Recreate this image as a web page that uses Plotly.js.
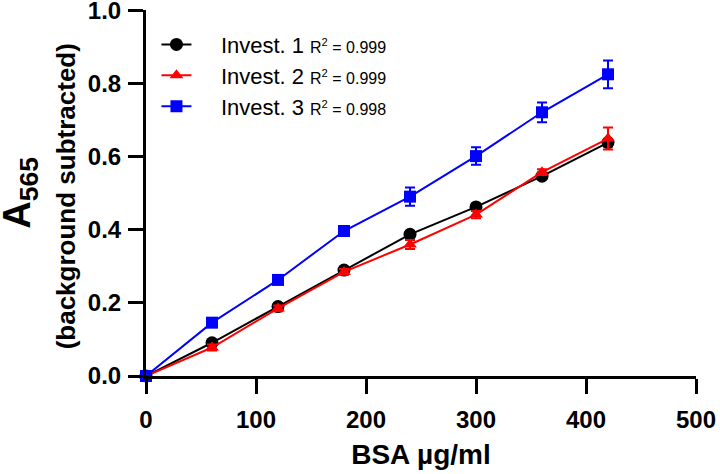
<!DOCTYPE html>
<html><head><meta charset="utf-8">
<script src="https://cdn.plot.ly/plotly-3.0.1.min.js"></script>
<style>body{margin:0;background:#fff}#chart{width:720px;height:474px}</style>
</head><body><div id="chart"></div>
<script>
const bsa = [0, 60, 120, 180, 240, 300, 360, 420];
const invest1 = [0, 0.091, 0.190, 0.290, 0.388, 0.463, 0.547, 0.639];
const invest1Err = [0, 0.006, 0.006, 0.006, 0.008, 0.008, 0.008, 0.010];
const invest2 = [0, 0.078, 0.185, 0.285, 0.360, 0.442, 0.558, 0.650];
const invest2Err = [0, 0.008, 0.008, 0.008, 0.012, 0.010, 0.008, 0.030];
const invest3 = [0, 0.146, 0.263, 0.397, 0.491, 0.602, 0.722, 0.826];
const invest3Err = [0, 0.008, 0.008, 0.010, 0.025, 0.024, 0.027, 0.038];
const names = ['Invest. 1', 'Invest. 2', 'Invest. 3'];
const r2 = ['0.999', '0.999', '0.998'];
const xTicks = [0, 100, 200, 300, 400, 500];
const yTicks = [0, 0.2, 0.4, 0.6, 0.8, 1.0];
const colors = ['#000000', '#ff0000', '#0000ff'];
const symbols = ['circle', 'triangle-up', 'square'];
const sizes = [13, 12, 12];
const ys = [invest1, invest2, invest3];
const errs = [invest1Err, invest2Err, invest3Err];

const font = 'Liberation Sans, Arial, sans-serif';
const traces = [];
for (let i = 0; i < 3; i++) {
  traces.push({
    x: bsa, y: ys[i], type: 'scatter', mode: 'lines+markers',
    name: '<span style="font-size:22px">\u00a0\u00a0\u00a0\u00a0' + names[i] + '</span> <span style="font-size:16px">R<sup>2</sup> = ' + r2[i] + '</span>',
    line: {color: colors[i], width: 2},
    marker: {color: colors[i], symbol: symbols[i], size: sizes[i]},
    error_y: {type: 'data', array: errs[i], visible: true, color: colors[i], thickness: 2, width: 5},
    cliponaxis: false
  });
}

const layout = {
  width: 720, height: 474,
  margin: {l: 146, r: 24, t: 10, b: 98},
  paper_bgcolor: '#fff', plot_bgcolor: '#fff',
  font: {family: font, color: '#000'},
  showlegend: true,
  legend: {x: 0.019, y: 0.962, xanchor: 'left', yanchor: 'top', bgcolor: 'rgba(0,0,0,0)',
    font: {size: 21.5, family: font, color: '#000'}, tracegroupgap: 0},
  xaxis: {
    range: [0, 500], tickvals: xTicks, ticklabeloverflow: 'allow', ticklabelstandoff: 5,
    showgrid: false, zeroline: false, showline: true, linewidth: 3, linecolor: '#000',
    ticks: 'outside', ticklen: 15, tickwidth: 3, tickcolor: '#000',
    tickfont: {size: 24, family: font, color: '#000', weight: 'bold'},
    title: {text: '<b>BSA µg/ml</b>', font: {size: 28, family: font, color: '#000'}, standoff: 13}
  },
  yaxis: {
    range: [0, 1.002], tickvals: yTicks, tickformat: '.1f', ticklabeloverflow: 'allow', ticklabelstandoff: 2,
    showgrid: false, zeroline: false, showline: true, linewidth: 3, linecolor: '#000',
    ticks: 'outside', ticklen: 15, tickwidth: 3, tickcolor: '#000',
    tickfont: {size: 24, family: font, color: '#000', weight: 'bold'}
  },
  annotations: [
    {xref: 'paper', yref: 'paper', x: -0.2295, y: 0.5, xanchor: 'center', yanchor: 'middle',
     textangle: -90, showarrow: false,
     text: '<b>A<sub>565</sub></b>', font: {size: 38, family: font, color: '#000'}},
    {xref: 'paper', yref: 'paper', x: -0.146, y: 0.49, xanchor: 'center', yanchor: 'middle',
     textangle: -90, showarrow: false,
     text: '<b>(background subtracted)</b>', font: {size: 26, family: font, color: '#000'}}
  ]
};
Plotly.newPlot('chart', traces, layout, {displayModeBar: false, staticPlot: true});
</script></body></html>
